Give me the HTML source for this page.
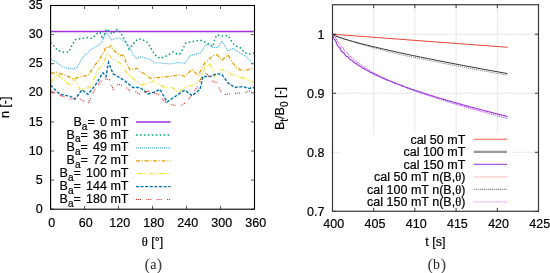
<!DOCTYPE html>
<html><head><meta charset="utf-8"><style>
html,body{margin:0;padding:0;background:#fff;width:550px;height:273px;overflow:hidden}
svg{display:block;filter:blur(0.4px)}
.tk{font-family:"Liberation Sans",sans-serif;font-size:12.5px;fill:#000;stroke:#000;stroke-width:0.2}
.sub{font-size:10px}
.serif{font-family:"Liberation Serif",serif}
.cap{font-family:"Liberation Serif",serif;font-size:14px;fill:#222}
.par{font-family:"Liberation Serif",serif;font-size:17px;fill:#444}
.ax{stroke:#333;stroke-width:0.8}
.ax2{stroke:#3a3a3a;stroke-width:1}
.grid{stroke:#d6d6d6;stroke-width:0.9;stroke-dasharray:1.2,0.7}
</style></head><body>
<svg width="550" height="273" viewBox="0 0 550 273">
<line x1="50.6" y1="209.20" x2="54.1" y2="209.20" class="ax"/>
<line x1="254.5" y1="209.20" x2="251.0" y2="209.20" class="ax"/>
<text x="42.6" y="212.80" class="tk" text-anchor="end">0</text>
<line x1="50.6" y1="180.10" x2="54.1" y2="180.10" class="ax"/>
<line x1="254.5" y1="180.10" x2="251.0" y2="180.10" class="ax"/>
<text x="42.6" y="183.70" class="tk" text-anchor="end">5</text>
<line x1="50.6" y1="151.00" x2="54.1" y2="151.00" class="ax"/>
<line x1="254.5" y1="151.00" x2="251.0" y2="151.00" class="ax"/>
<text x="42.6" y="154.60" class="tk" text-anchor="end">10</text>
<line x1="50.6" y1="121.90" x2="54.1" y2="121.90" class="ax"/>
<line x1="254.5" y1="121.90" x2="251.0" y2="121.90" class="ax"/>
<text x="42.6" y="125.50" class="tk" text-anchor="end">15</text>
<line x1="50.6" y1="92.80" x2="54.1" y2="92.80" class="ax"/>
<line x1="254.5" y1="92.80" x2="251.0" y2="92.80" class="ax"/>
<text x="42.6" y="96.40" class="tk" text-anchor="end">20</text>
<line x1="50.6" y1="63.70" x2="54.1" y2="63.70" class="ax"/>
<line x1="254.5" y1="63.70" x2="251.0" y2="63.70" class="ax"/>
<text x="42.6" y="67.30" class="tk" text-anchor="end">25</text>
<line x1="50.6" y1="34.60" x2="54.1" y2="34.60" class="ax"/>
<line x1="254.5" y1="34.60" x2="251.0" y2="34.60" class="ax"/>
<text x="42.6" y="38.20" class="tk" text-anchor="end">30</text>
<line x1="50.6" y1="5.50" x2="54.1" y2="5.50" class="ax"/>
<line x1="254.5" y1="5.50" x2="251.0" y2="5.50" class="ax"/>
<text x="42.6" y="9.10" class="tk" text-anchor="end">35</text>
<line x1="50.60" y1="209.2" x2="50.60" y2="205.7" class="ax"/>
<line x1="50.60" y1="5.5" x2="50.60" y2="9.0" class="ax"/>
<text x="51.80" y="227.3" class="tk" text-anchor="middle">0</text>
<line x1="84.58" y1="209.2" x2="84.58" y2="205.7" class="ax"/>
<line x1="84.58" y1="5.5" x2="84.58" y2="9.0" class="ax"/>
<text x="85.78" y="227.3" class="tk" text-anchor="middle">60</text>
<line x1="118.57" y1="209.2" x2="118.57" y2="205.7" class="ax"/>
<line x1="118.57" y1="5.5" x2="118.57" y2="9.0" class="ax"/>
<text x="119.77" y="227.3" class="tk" text-anchor="middle">120</text>
<line x1="152.55" y1="209.2" x2="152.55" y2="205.7" class="ax"/>
<line x1="152.55" y1="5.5" x2="152.55" y2="9.0" class="ax"/>
<text x="153.75" y="227.3" class="tk" text-anchor="middle">180</text>
<line x1="186.53" y1="209.2" x2="186.53" y2="205.7" class="ax"/>
<line x1="186.53" y1="5.5" x2="186.53" y2="9.0" class="ax"/>
<text x="187.73" y="227.3" class="tk" text-anchor="middle">240</text>
<line x1="220.52" y1="209.2" x2="220.52" y2="205.7" class="ax"/>
<line x1="220.52" y1="5.5" x2="220.52" y2="9.0" class="ax"/>
<text x="221.72" y="227.3" class="tk" text-anchor="middle">300</text>
<line x1="254.50" y1="209.2" x2="254.50" y2="205.7" class="ax"/>
<line x1="254.50" y1="5.5" x2="254.50" y2="9.0" class="ax"/>
<text x="255.70" y="227.3" class="tk" text-anchor="middle">360</text>
<line x1="50.6" y1="31.5" x2="254.5" y2="31.5" stroke="#a030e0" stroke-width="1.3"/>
<polyline points="50.60,42.40 54.00,46.00 58.00,50.60 63.00,51.90 69.00,51.90 72.00,45.00 75.60,39.60 82.00,38.50 88.00,37.50 92.00,38.50 97.70,33.00 100.00,32.40 103.00,39.00 106.30,28.80 109.20,31.30 112.00,34.10 117.50,29.10 122.00,35.00 125.70,41.60 129.00,49.00 133.00,44.00 138.00,39.00 142.00,39.20 148.00,42.90 152.00,50.20 155.00,54.80 160.00,58.50 167.00,55.70 173.00,52.00 177.00,53.90 180.00,53.90 183.00,48.40 186.00,42.90 190.00,42.00 200.00,40.10 207.00,42.90 210.00,44.70 213.00,46.60 215.00,38.30 217.00,34.70 222.00,36.00 228.00,35.60 232.00,42.00 235.00,45.60 240.00,47.50 245.00,53.00 250.00,53.90 254.50,53.00" fill="none" stroke="#009e73" stroke-width="1.5" stroke-dasharray="1.5,2.45"/>
<polyline points="50.60,58.90 56.00,62.00 62.00,66.50 66.00,68.00 72.00,69.00 77.00,67.50 83.30,56.50 91.00,49.50 95.50,46.70 101.00,43.40 104.30,36.30 106.00,33.00 107.60,34.10 110.30,38.50 112.00,40.10 115.30,38.50 118.60,37.90 121.90,39.60 125.20,42.30 128.50,45.60 133.00,54.80 137.00,58.50 140.00,56.60 150.00,59.40 155.00,63.00 160.00,63.00 170.00,64.00 178.00,62.50 185.00,63.40 190.00,55.70 200.00,53.00 207.00,43.80 213.00,47.50 218.00,47.50 222.00,41.00 228.00,51.10 233.00,48.40 240.00,53.00 245.00,55.70 250.00,60.30 254.50,64.90" fill="none" stroke="#56b4e9" stroke-width="1.15" stroke-dasharray="1.1,0.9"/>
<polyline points="50.60,73.30 57.00,72.40 65.00,75.00 73.00,78.80 80.00,77.00 88.50,75.00 95.00,64.90 100.00,58.50 103.80,52.00 106.00,46.70 108.00,48.40 110.90,45.60 113.00,49.50 120.00,55.70 124.00,54.80 126.00,62.70 130.00,70.00 137.00,68.20 140.00,71.90 145.00,73.70 150.00,78.30 160.00,77.40 170.00,76.50 180.00,74.70 185.00,76.50 192.00,69.20 198.00,75.60 205.00,62.70 208.00,60.00 213.00,55.70 217.00,54.80 222.00,60.30 228.00,54.80 232.00,61.80 237.00,68.20 243.00,71.00 250.00,69.20 254.50,67.30" fill="none" stroke="#e69f00" stroke-width="1.3" stroke-dasharray="4,1.75,1,1.75"/>
<polyline points="50.60,82.50 57.00,74.20 70.00,85.20 75.00,78.80 80.00,89.80 91.00,86.70 97.40,70.00 102.60,64.90 107.70,53.30 112.00,58.50 120.00,63.00 128.20,74.50 141.40,85.00 147.00,83.50 153.00,81.00 165.00,87.50 172.80,87.70 178.00,93.00 185.00,87.50 195.00,84.70 200.00,80.00 205.00,67.30 210.00,63.70 215.00,76.50 222.00,69.20 230.00,73.70 240.00,77.40 245.00,78.30 254.50,82.90" fill="none" stroke="#f0e442" stroke-width="1.3" stroke-dasharray="4.5,1.5,1,1.5,1,1.5"/>
<polyline points="50.60,85.20 60.00,94.40 70.00,96.20 75.00,99.00 82.00,89.80 88.00,94.40 95.00,85.60 103.00,72.80 106.00,76.50 108.50,62.30 113.00,73.70 125.00,81.00 133.00,87.50 140.00,87.50 148.00,93.90 155.00,92.00 160.00,89.30 163.00,94.80 167.00,102.00 175.00,96.60 183.00,91.00 185.00,90.20 192.00,95.70 200.00,89.30 203.00,76.50 210.00,76.50 217.00,73.70 222.00,74.70 228.00,82.90 235.00,87.50 243.00,86.50 248.00,88.40 254.50,87.50" fill="none" stroke="#0072b2" stroke-width="1.4" stroke-dasharray="3,1.6"/>
<polyline points="50.60,90.70 62.00,96.20 70.00,99.00 80.00,99.00 88.00,103.50 95.00,89.30 103.00,78.30 110.00,80.00 113.00,89.30 118.30,84.40 124.90,86.00 129.90,91.00 136.00,92.00 139.80,94.30 148.00,91.00 157.90,94.30 160.00,95.70 165.00,102.00 172.00,104.90 180.00,105.80 185.00,103.00 190.00,97.50 198.00,85.60 203.00,74.70 207.00,73.70 212.00,81.00 217.00,83.00 220.00,90.20 223.00,94.80 228.00,94.00 235.00,93.50 245.00,92.50 254.50,89.50" fill="none" stroke="#e51e10" stroke-width="1.1" stroke-dasharray="1,1,1,1,1,5.3"/>
<text x="128.5" y="125.60" class="tk lg" text-anchor="end">B<tspan class="sub" dy="3.9">a</tspan><tspan dy="-3.9">=</tspan><tspan dx="1.8"> 0 mT</tspan></text>
<line x1="136" y1="122.10" x2="170.5" y2="122.10" stroke="#a030e0" stroke-width="1.5" stroke-dasharray="none" stroke-dashoffset="0"/>
<text x="128.5" y="138.50" class="tk lg" text-anchor="end">B<tspan class="sub" dy="3.9">a</tspan><tspan dy="-3.9">=</tspan><tspan dx="1.8"> 36 mT</tspan></text>
<line x1="136" y1="135.00" x2="170.5" y2="135.00" stroke="#009e73" stroke-width="1.5" stroke-dasharray="1.5,2.45" stroke-dashoffset="0"/>
<text x="128.5" y="151.40" class="tk lg" text-anchor="end">B<tspan class="sub" dy="3.9">a</tspan><tspan dy="-3.9">=</tspan><tspan dx="1.8"> 49 mT</tspan></text>
<line x1="136" y1="147.90" x2="170.5" y2="147.90" stroke="#56b4e9" stroke-width="1.3" stroke-dasharray="1.1,0.9" stroke-dashoffset="0"/>
<text x="128.5" y="164.30" class="tk lg" text-anchor="end">B<tspan class="sub" dy="3.9">a</tspan><tspan dy="-3.9">=</tspan><tspan dx="1.8"> 72 mT</tspan></text>
<line x1="136" y1="160.80" x2="170.5" y2="160.80" stroke="#e69f00" stroke-width="1.3" stroke-dasharray="4,1.75,1,1.75" stroke-dashoffset="0"/>
<text x="128.5" y="177.20" class="tk lg" text-anchor="end">B<tspan class="sub" dy="3.9">a</tspan><tspan dy="-3.9">=</tspan><tspan dx="1.8"> 100 mT</tspan></text>
<line x1="136" y1="173.70" x2="170.5" y2="173.70" stroke="#f0e442" stroke-width="1.3" stroke-dasharray="4.5,1.5,1,1.5,1,1.5" stroke-dashoffset="8.8"/>
<text x="128.5" y="190.10" class="tk lg" text-anchor="end">B<tspan class="sub" dy="3.9">a</tspan><tspan dy="-3.9">=</tspan><tspan dx="1.8"> 144 mT</tspan></text>
<line x1="136" y1="186.60" x2="170.5" y2="186.60" stroke="#0072b2" stroke-width="1.4" stroke-dasharray="3,1.6" stroke-dashoffset="0"/>
<text x="128.5" y="203.00" class="tk lg" text-anchor="end">B<tspan class="sub" dy="3.9">a</tspan><tspan dy="-3.9">=</tspan><tspan dx="1.8"> 180 mT</tspan></text>
<line x1="136" y1="199.50" x2="170.5" y2="199.50" stroke="#e51e10" stroke-width="1.1" stroke-dasharray="1,1,1,1,1,5.3" stroke-dashoffset="0"/>
<rect x="50.6" y="5.5" width="203.90" height="203.70" fill="none" stroke="#000" stroke-width="1.1"/>
<text x="152.5" y="246.3" class="tk" text-anchor="middle"><tspan class="serif">θ</tspan> [°]</text>
<text transform="translate(9.0,107.3) rotate(-90)" class="tk" text-anchor="middle">n [-]</text>
<text x="150.1" y="270" class="par" text-anchor="end">(</text><text x="153.3" y="269.3" class="cap" text-anchor="middle">a</text><text x="156.6" y="270" class="par" text-anchor="start">)</text>
<line x1="373.70" y1="4.7" x2="373.70" y2="211.3" class="grid"/>
<line x1="414.90" y1="4.7" x2="414.90" y2="211.3" class="grid"/>
<line x1="456.10" y1="4.7" x2="456.10" y2="211.3" class="grid"/>
<line x1="497.30" y1="4.7" x2="497.30" y2="211.3" class="grid"/>
<line x1="332.5" y1="152.27" x2="538.5" y2="152.27" class="grid"/>
<line x1="332.5" y1="93.24" x2="538.5" y2="93.24" class="grid"/>
<line x1="332.5" y1="34.21" x2="538.5" y2="34.21" class="grid"/>
<polyline points="332.50,34.21 507.60,47.30" fill="none" stroke="#e8463a" stroke-width="1"/>
<polyline points="332.50,34.21 332.75,34.44 333.26,34.77 333.95,35.14 334.80,35.56 335.79,36.00 336.90,36.47 338.13,36.96 339.47,37.48 340.91,38.01 342.46,38.56 344.10,39.13 345.83,39.71 347.65,40.30 349.56,40.91 351.55,41.53 353.63,42.17 355.78,42.81 358.01,43.47 360.31,44.13 362.69,44.81 365.14,45.50 367.67,46.20 370.26,46.90 372.92,47.62 375.65,48.35 378.44,49.08 381.30,49.82 384.22,50.57 387.21,51.33 390.26,52.10 393.37,52.87 396.54,53.65 399.78,54.41 403.07,55.12 406.42,55.83 409.83,56.56 413.29,57.28 416.81,58.02 420.39,58.75 424.03,59.50 427.71,60.24 431.46,61.00 435.25,61.75 439.10,62.52 443.01,63.28 446.96,64.05 450.97,64.83 455.03,65.61 459.14,66.39 463.30,67.18 467.51,67.97 471.77,68.77 476.08,69.57 480.44,70.37 484.84,71.18 489.30,72.00 493.80,72.81 498.36,73.63 502.95,74.46 507.60,75.28" fill="none" stroke="#666" stroke-width="0.9" stroke-dasharray="1,1"/>
<polyline points="332.50,34.21 332.75,34.44 333.26,34.75 333.95,35.11 334.80,35.50 335.79,35.92 336.90,36.36 338.13,36.82 339.47,37.30 340.91,37.79 342.46,38.30 344.10,38.83 345.83,39.36 347.65,39.91 349.56,40.47 351.55,41.04 353.63,41.62 355.78,42.21 358.01,42.81 360.31,43.42 362.69,44.03 365.14,44.66 367.67,45.29 370.26,45.93 372.92,46.58 375.65,47.23 378.44,47.89 381.30,48.56 384.22,49.24 387.21,49.92 390.26,50.61 393.37,51.30 396.54,52.00 399.78,52.71 403.07,53.42 406.42,54.13 409.83,54.86 413.29,55.58 416.81,56.32 420.39,57.05 424.03,57.80 427.71,58.54 431.46,59.30 435.25,60.05 439.10,60.82 443.01,61.58 446.96,62.35 450.97,63.13 455.03,63.91 459.14,64.69 463.30,65.48 467.51,66.27 471.77,67.07 476.08,67.87 480.44,68.67 484.84,69.48 489.30,70.30 493.80,71.11 498.36,71.93 502.95,72.76 507.60,73.58" fill="none" stroke="#2a2a2a" stroke-width="0.95"/>
<polyline points="332.50,34.21 332.55,34.28 332.66,34.43 332.80,34.63 332.98,34.87 333.18,35.15 333.42,35.45 333.67,35.75 333.95,36.05 334.25,36.35 334.57,36.66 334.92,37.00 335.28,37.42 335.66,37.94 336.05,38.58 336.47,39.34 336.90,40.14 337.35,40.92 337.81,41.63 338.29,42.22 338.79,42.76 339.30,43.34 339.82,44.04 340.36,44.89 340.91,45.83 341.48,46.73 342.06,47.49 342.66,48.09 343.27,48.65 343.89,49.33 344.53,50.19 345.17,51.14 345.83,51.98 346.51,52.63 347.19,53.17 347.89,53.78 348.60,54.58 349.32,55.49 350.05,56.29 350.80,56.87 351.55,57.38 352.32,58.03 353.10,58.87 353.89,59.69 354.69,60.31 355.51,60.80 356.33,61.39 357.16,62.17 358.01,62.95 358.86,63.54 359.73,64.02 360.61,64.62 361.49,65.38 362.39,66.08 363.30,66.60 364.22,67.09 365.14,67.75 366.08,68.46 367.03,69.04 367.99,69.52 368.95,70.09 369.93,70.77 370.92,71.37 371.91,71.86 372.92,72.40 373.93,73.03 374.96,73.61 375.99,74.12 377.04,74.66 378.09,75.24 379.15,75.79 380.22,76.31 381.30,76.85 382.39,77.39 383.49,77.92 384.59,78.45 385.71,78.98 386.83,79.50 387.97,80.02 389.11,80.54 390.26,81.06 391.42,81.57 392.59,82.08 393.77,82.59 394.95,83.09 396.15,83.60 397.35,84.10 398.56,84.60 399.78,85.09 401.00,85.59 402.24,86.08 403.48,86.57 404.74,87.06 406.00,87.55 407.27,88.04 408.54,88.52 409.83,89.00 411.12,89.48 412.42,89.96 413.73,90.44 415.05,90.92 416.37,91.39 417.70,91.87 419.04,92.34 420.39,92.81 421.75,93.28 423.11,93.75 424.48,94.22 425.86,94.69 427.25,95.16 428.64,95.62 430.05,96.09 431.46,96.55 432.87,97.02 434.30,97.48 435.73,97.94 437.17,98.40 438.62,98.86 440.07,99.32 441.54,99.78 443.01,100.24 444.48,100.70 445.97,101.16 447.46,101.61 448.96,102.07 450.46,102.53 451.98,102.98 453.50,103.44 455.03,103.90 456.56,104.35 458.10,104.81 459.65,105.26 461.21,105.71 462.77,106.17 464.34,106.62 465.92,107.08 467.51,107.53 469.10,107.98 470.70,108.44 472.30,108.89 473.92,109.34 475.54,109.80 477.16,110.25 478.80,110.70 480.44,111.16 482.08,111.61 483.74,112.06 485.40,112.52 487.07,112.97 488.74,113.42 490.42,113.88 492.11,114.33 493.80,114.79 495.50,115.24 497.21,115.69 498.93,116.15 500.65,116.60 502.38,117.06 504.11,117.51 505.85,117.97 507.60,118.42" fill="none" stroke="#b860ec" stroke-width="1.1" stroke-dasharray="1.2,0.8"/>
<polyline points="332.50,34.21 332.55,34.42 332.66,34.85 332.80,35.40 332.98,36.05 333.18,36.74 333.42,37.43 333.67,38.07 333.95,38.62 334.25,39.09 334.57,39.49 334.92,39.90 335.28,40.40 335.66,41.09 336.05,42.01 336.47,43.11 336.90,44.28 337.35,45.34 337.81,46.13 338.29,46.62 338.79,46.92 339.30,47.26 339.82,47.89 340.36,48.88 340.91,50.07 341.48,51.15 342.06,51.84 342.66,52.14 343.27,52.35 343.89,52.85 344.53,53.80 345.17,54.96 345.83,55.89 346.51,56.32 347.19,56.47 347.89,56.83 348.60,57.67 349.32,58.79 350.05,59.62 350.80,59.94 351.55,60.08 352.32,60.60 353.10,61.58 353.89,62.54 354.69,63.00 355.51,63.14 356.33,63.54 357.16,64.43 358.01,65.34 358.86,65.78 359.73,65.94 360.61,66.41 361.49,67.30 362.39,68.05 363.30,68.35 364.22,68.60 365.14,69.26 366.08,70.08 367.03,70.56 367.99,70.81 368.95,71.30 369.93,72.05 370.92,72.62 371.91,72.93 372.92,73.37 373.93,74.03 374.96,74.58 375.99,74.96 377.04,75.41 378.09,75.99 379.15,76.50 380.22,76.93 381.30,77.42 382.39,77.91 383.49,78.40 384.59,78.87 385.71,79.35 386.83,79.83 387.97,80.30 389.11,80.77 390.26,81.24 391.42,81.71 392.59,82.18 393.77,82.64 394.95,83.10 396.15,83.57 397.35,84.03 398.56,84.49 399.78,84.95 401.00,85.40 402.24,85.86 403.48,86.31 404.74,86.77 406.00,87.22 407.27,87.67 408.54,88.12 409.83,88.57 411.12,89.02 412.42,89.47 413.73,89.92 415.05,90.37 416.37,90.81 417.70,91.26 419.04,91.70 420.39,92.14 421.75,92.59 423.11,93.03 424.48,93.47 425.86,93.91 427.25,94.35 428.64,94.79 430.05,95.23 431.46,95.67 432.87,96.11 434.30,96.55 435.73,96.99 437.17,97.43 438.62,97.86 440.07,98.30 441.54,98.74 443.01,99.17 444.48,99.61 445.97,100.04 447.46,100.48 448.96,100.91 450.46,101.35 451.98,101.78 453.50,102.22 455.03,102.65 456.56,103.09 458.10,103.52 459.65,103.95 461.21,104.39 462.77,104.82 464.34,105.25 465.92,105.69 467.51,106.12 469.10,106.55 470.70,106.99 472.30,107.42 473.92,107.85 475.54,108.29 477.16,108.72 478.80,109.15 480.44,109.59 482.08,110.02 483.74,110.46 485.40,110.89 487.07,111.32 488.74,111.76 490.42,112.19 492.11,112.62 493.80,113.06 495.50,113.49 497.21,113.93 498.93,114.36 500.65,114.80 502.38,115.23 504.11,115.67 505.85,116.10 507.60,116.54" fill="none" stroke="#a040e0" stroke-width="1.2"/>
<rect x="339.5" y="133.8" width="173.5" height="73.8" fill="#fff"/>
<text x="465.3" y="143.60" class="tk" text-anchor="end">cal 50 mT</text>
<line x1="473.8" y1="139.30" x2="507" y2="139.30" stroke="#f0604f" stroke-width="1.1" stroke-dasharray="none"/>
<text x="465.3" y="156.10" class="tk" text-anchor="end">cal 100 mT</text>
<line x1="473.8" y1="151.80" x2="507" y2="151.80" stroke="#999" stroke-width="2.2" stroke-dasharray="none"/>
<text x="465.3" y="168.60" class="tk" text-anchor="end">cal 150 mT</text>
<line x1="473.8" y1="164.30" x2="507" y2="164.30" stroke="#9b30d8" stroke-width="1" stroke-dasharray="none"/>
<text x="465.3" y="181.10" class="tk" text-anchor="end">cal 50 mT n(B,<tspan class="serif">θ</tspan>)</text>
<line x1="473.8" y1="176.80" x2="507" y2="176.80" stroke="#f5a0a0" stroke-width="1.2" stroke-dasharray="1,1"/>
<text x="465.3" y="193.60" class="tk" text-anchor="end">cal 100 mT n(B,<tspan class="serif">θ</tspan>)</text>
<line x1="473.8" y1="189.30" x2="507" y2="189.30" stroke="#444" stroke-width="0.9" stroke-dasharray="1,1"/>
<text x="465.3" y="206.10" class="tk" text-anchor="end">cal 150 mT n(B,<tspan class="serif">θ</tspan>)</text>
<line x1="473.8" y1="201.80" x2="507" y2="201.80" stroke="#e090f0" stroke-width="1.2" stroke-dasharray="1,1"/>
<line x1="332.50" y1="211.3" x2="332.50" y2="207.8" class="ax2"/>
<line x1="332.50" y1="4.7" x2="332.50" y2="8.2" class="ax2"/>
<text x="333.80" y="228" class="tk" text-anchor="middle">400</text>
<line x1="373.70" y1="211.3" x2="373.70" y2="207.8" class="ax2"/>
<line x1="373.70" y1="4.7" x2="373.70" y2="8.2" class="ax2"/>
<text x="375.00" y="228" class="tk" text-anchor="middle">405</text>
<line x1="414.90" y1="211.3" x2="414.90" y2="207.8" class="ax2"/>
<line x1="414.90" y1="4.7" x2="414.90" y2="8.2" class="ax2"/>
<text x="416.20" y="228" class="tk" text-anchor="middle">410</text>
<line x1="456.10" y1="211.3" x2="456.10" y2="207.8" class="ax2"/>
<line x1="456.10" y1="4.7" x2="456.10" y2="8.2" class="ax2"/>
<text x="457.40" y="228" class="tk" text-anchor="middle">415</text>
<line x1="497.30" y1="211.3" x2="497.30" y2="207.8" class="ax2"/>
<line x1="497.30" y1="4.7" x2="497.30" y2="8.2" class="ax2"/>
<text x="498.60" y="228" class="tk" text-anchor="middle">420</text>
<line x1="538.50" y1="211.3" x2="538.50" y2="207.8" class="ax2"/>
<line x1="538.50" y1="4.7" x2="538.50" y2="8.2" class="ax2"/>
<text x="539.80" y="228" class="tk" text-anchor="middle">425</text>
<line x1="332.5" y1="211.30" x2="336.0" y2="211.30" class="ax2"/>
<line x1="538.5" y1="211.30" x2="535.0" y2="211.30" class="ax2"/>
<text x="324.5" y="215.80" class="tk" text-anchor="end">0.7</text>
<line x1="538.5" y1="152.27" x2="535.0" y2="152.27" class="ax2"/>
<text x="324.5" y="156.77" class="tk" text-anchor="end">0.8</text>
<line x1="332.5" y1="93.24" x2="336.0" y2="93.24" class="ax2"/>
<line x1="538.5" y1="93.24" x2="535.0" y2="93.24" class="ax2"/>
<text x="324.5" y="97.74" class="tk" text-anchor="end">0.9</text>
<line x1="332.5" y1="34.21" x2="336.0" y2="34.21" class="ax2"/>
<line x1="538.5" y1="34.21" x2="535.0" y2="34.21" class="ax2"/>
<text x="324.5" y="38.71" class="tk" text-anchor="end">1</text>
<rect x="332.5" y="4.7" width="206.00" height="206.60" fill="none" stroke="#3a3a3a" stroke-width="1.2"/>
<text x="435.3" y="246.4" class="tk" text-anchor="middle">t [s]</text>
<text transform="translate(284,108.5) rotate(-90)" class="tk" text-anchor="middle">B<tspan class="sub" dy="3.8">t</tspan><tspan dy="-3.8">/B</tspan><tspan class="sub" dy="3.8">0</tspan><tspan dy="-3.8"> [-]</tspan></text>
<text x="433.1" y="270" class="par" text-anchor="end">(</text><text x="436.5" y="269.3" class="cap" text-anchor="middle">b</text><text x="440.5" y="270" class="par" text-anchor="start">)</text>
</svg></body></html>
